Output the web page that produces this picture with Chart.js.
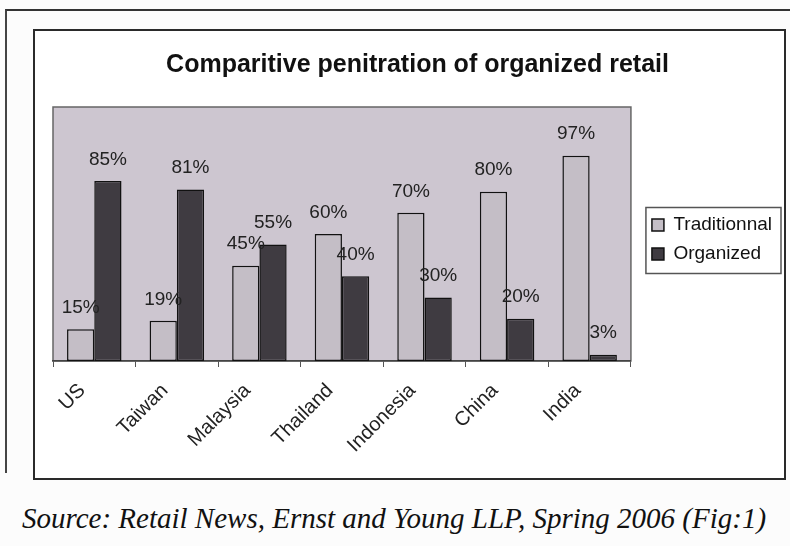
<!DOCTYPE html>
<html lang="en">
<head>
    <meta charset="UTF-8">
    <title>Comparitive penitration of organized retail</title>
    <script src="https://cdn.jsdelivr.net/npm/chart.js@4.4.1/dist/chart.umd.min.js"></script>
    <style>
        body { margin: 0; background: #fcfcfc; width: 790px; height: 546px; position: relative; overflow: hidden; }
        #outer { position: absolute; left: 5px; top: 9px; width: 790px; height: 462px; border-top: 2px solid #333; border-left: 2px solid #444; }
        #frame { position: absolute; left: 33px; top: 29px; width: 753px; height: 451px; border: 2px solid #2a2a2a; box-sizing: border-box; background: #fff; }
        #wrap { position: absolute; left: 35px; top: 31px; width: 749px; height: 447px; }
        #source { position: absolute; left: 22px; top: 502px; font-family: "Liberation Serif", serif; font-style: italic; font-size: 29px; color: #111; white-space: nowrap; }
    </style>
</head>
<body>
<div id="outer"></div>
<div id="frame"></div>
<div id="wrap"><canvas id="retail-chart" width="749" height="447"></canvas></div>
<div id="source">Source: Retail News, Ernst and Young LLP, Spring 2006 (Fig:1)</div>

<script>
    const countries = ['US', 'Taiwan', 'Malaysia', 'Thailand', 'Indonesia', 'China', 'India'];
    const traditional = [15, 19, 45, 60, 70, 80, 97];
    const organized = [85, 81, 55, 40, 30, 20, 3];

    // grey plot background + thin frame
    const plotBg = {
        id: 'plotBg',
        beforeDraw(chart) {
            const {ctx, chartArea: a} = chart;
            ctx.save();
            ctx.fillStyle = '#cdc6d0';
            ctx.fillRect(a.left, a.top, a.right - a.left, a.bottom - a.top);
            ctx.strokeStyle = '#666';
            ctx.lineWidth = 1.5;
            ctx.strokeRect(a.left, a.top, a.right - a.left, a.bottom - a.top);
            ctx.restore();
        }
    };

    // percent labels above the bars
    const barLabels = {
        id: 'barLabels',
        afterDatasetsDraw(chart) {
            const ctx = chart.ctx;
            ctx.save();
            ctx.font = '19px Arial, "Liberation Sans", sans-serif';
            ctx.fillStyle = '#222';
            ctx.textAlign = 'center';
            ctx.textBaseline = 'bottom';
            chart.data.datasets.forEach((ds, i) => {
                chart.getDatasetMeta(i).data.forEach((bar, j) => {
                    ctx.fillText(ds.data[j] + '%', bar.x, bar.y - 12);
                });
            });
            ctx.restore();
        }
    };

    // legend sits a little higher than chart.js centres it, with a box round it
    const legendBox = {
        id: 'legendBox',
        afterLayout(chart) {
            const lg = chart.legend;
            if (!lg) return;
            lg.top -= 15;
            lg.bottom -= 15;
        },
        afterDraw(chart) {
            const lg = chart.legend;
            if (!lg || !lg.legendHitBoxes.length) return;
            const boxes = lg.legendHitBoxes;
            const top = Math.min(...boxes.map(b => b.top)) - 8;
            const bottom = Math.max(...boxes.map(b => b.top + b.height)) + 10;
            const left = Math.min(...boxes.map(b => b.left)) - 6;
            const right = lg.right - 1;
            const ctx = chart.ctx;
            ctx.save();
            ctx.strokeStyle = '#555';
            ctx.lineWidth = 1.5;
            ctx.strokeRect(left, top, right - left, bottom - top);
            ctx.restore();
        }
    };

    new Chart('retail-chart', {
        type: 'bar',
        data: {
            labels: countries,
            datasets: [
                {
                    label: 'Traditionnal',
                    data: traditional,
                    backgroundColor: '#c4bec6',
                    borderColor: '#111',
                    borderWidth: 1.5,
                    borderSkipped: false
                },
                {
                    label: 'Organized',
                    data: organized,
                    backgroundColor: '#3f3b41',
                    borderColor: '#111',
                    borderWidth: 1.5,
                    borderSkipped: false
                }
            ]
        },
        options: {
            responsive: false,
            animation: false,
            layout: {padding: {left: 18, right: 2, top: 0, bottom: 0}},
            datasets: {bar: {categoryPercentage: 0.66, barPercentage: 1}},
            plugins: {
                title: {
                    display: true,
                    text: 'Comparitive penitration of organized retail',
                    color: '#111',
                    font: {family: 'Arial, "Liberation Sans", sans-serif', size: 25, weight: 'bold'},
                    padding: {top: 19, bottom: 27}
                },
                legend: {
                    position: 'right',
                    labels: {
                        color: '#111',
                        boxWidth: 12,
                        boxHeight: 12,
                        padding: 10,
                        font: {family: 'Arial, "Liberation Sans", sans-serif', size: 19}
                    }
                },
                tooltip: {enabled: false}
            },
            scales: {
                x: {
                    grid: {display: true, drawOnChartArea: false, drawTicks: true, tickLength: 6, offset: true, color: '#555'},
                    border: {display: true, color: '#444', width: 1.5},
                    ticks: {
                        color: '#222',
                        autoSkip: false,
                        maxRotation: 45,
                        minRotation: 45,
                        padding: 12,
                        labelOffset: -12,
                        font: {family: 'Arial, "Liberation Sans", sans-serif', size: 20}
                    },
                    afterFit(scale) { scale.height = 117; }
                },
                y: {
                    position: 'right',
                    min: 0,
                    max: 120,
                    grid: {display: false},
                    border: {display: false},
                    ticks: {display: false},
                    afterFit(scale) { scale.width = 11; }
                }
            }
        },
        plugins: [plotBg, barLabels, legendBox]
    });
</script>
</body>
</html>
